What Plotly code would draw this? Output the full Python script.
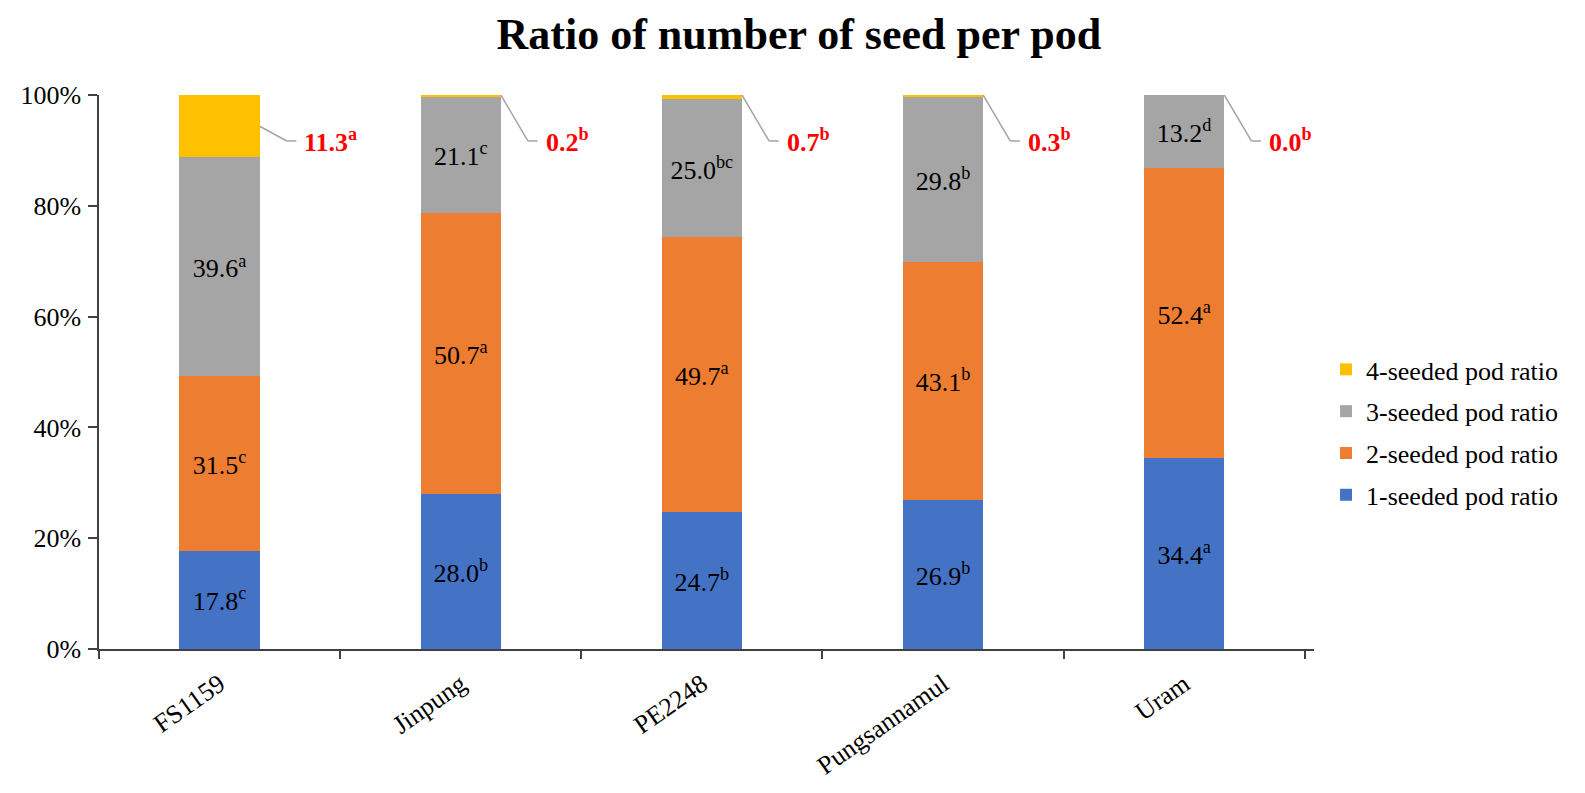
import plotly.graph_objects as go

categories = ["FS1159", "Jinpung", "PE2248", "Pungsannamul", "Uram"]
one_seeded = [17.8, 28.0, 24.7, 26.9, 34.4]
two_seeded = [31.5, 50.7, 49.7, 43.1, 52.4]
three_seeded = [39.6, 21.1, 25.0, 29.8, 13.2]
four_seeded = [11.3, 0.2, 0.7, 0.3, 0.0]
one_sig = ["c", "b", "b", "b", "a"]
two_sig = ["c", "a", "a", "b", "a"]
three_sig = ["a", "c", "bc", "b", "d"]
four_sig = ["a", "b", "b", "b", "b"]
series_names = ["1-seeded pod ratio", "2-seeded pod ratio", "3-seeded pod ratio", "4-seeded pod ratio"]
colors = ["#4472C4", "#ED7D31", "#A5A5A5", "#FFC000"]

FONT = "Liberation Serif, Times New Roman, serif"
BAR_W = 0.333

def lab(vals, sig):
    return [f"{v:.1f}<sup>{s}</sup>" for v, s in zip(vals, sig)]

fig = go.Figure()
series = [(one_seeded, one_sig), (two_seeded, two_sig), (three_seeded, three_sig), (four_seeded, four_sig)]
for k, ((vals, sig), name, col) in enumerate(zip(series, series_names, colors)):
    fig.add_trace(go.Bar(
        x=categories, y=vals, name=name, marker_color=col, marker_line_width=0,
        width=BAR_W,
        text=lab(vals, sig) if k < 3 else None,
        textposition="inside" if k < 3 else "none",
        insidetextanchor="middle", textangle=0,
        textfont=dict(family=FONT, size=26, color="black"),
        legendgroup=name, legendrank=10 - k,
    ))

# leader lines and labels for 4-seeded values
LABEL_Y = 91.7
for i, cat in enumerate(categories):
    total = one_seeded[i] + two_seeded[i] + three_seeded[i] + four_seeded[i]
    base = (one_seeded[i] + two_seeded[i] + three_seeded[i]) / total * 100
    top = 100.0
    start_y = (base + top) / 2 if four_seeded[i] > 2 else top
    x0 = i + BAR_W / 2
    x1 = x0 + 0.112
    x2 = x1 + 0.04
    fig.add_shape(type="line", xref="x", yref="y", x0=x0, y0=start_y, x1=x1, y1=LABEL_Y,
                  line=dict(color="#A5A5A5", width=1.5))
    fig.add_shape(type="line", xref="x", yref="y", x0=x1, y0=LABEL_Y, x1=x2, y1=LABEL_Y,
                  line=dict(color="#A5A5A5", width=1.5))
    fig.add_annotation(x=x2 + 0.025, y=LABEL_Y, xref="x", yref="y", xanchor="left", yanchor="middle",
                       text=f"<b>{four_seeded[i]:.1f}<sup>{four_sig[i]}</sup></b>", showarrow=False,
                       font=dict(family=FONT, size=26, color="#FF0000"))

fig.update_layout(
    barmode="stack", barnorm="percent",
    width=1585, height=793,
    margin=dict(l=99, r=271, t=95, b=144),
    paper_bgcolor="white", plot_bgcolor="white",
    font=dict(family=FONT, size=26, color="black"),
    title=dict(text="<b>Ratio of number of seed per pod</b>", x=0.504, xanchor="center",
               y=0.958, yanchor="middle", xref="container", yref="container",
               font=dict(family=FONT, size=44, color="black")),
    legend=dict(x=1.0099, xanchor="left", y=0.547, yanchor="top",
                traceorder="grouped", tracegroupgap=5,
                font=dict(family=FONT, size=26, color="black"),
                itemwidth=30),
    showlegend=True,
)
fig.update_xaxes(showline=True, linecolor="#404040", linewidth=1.5, ticks="outside",
                 tickson="boundaries", ticklen=8, tickcolor="#404040", tickwidth=1.5,
                 tickangle=-35, ticklabelstandoff=8,
                 tickfont=dict(family=FONT, size=26, color="black"),
                 showgrid=False)
fig.update_yaxes(range=[0, 100], showline=True, linecolor="#404040", linewidth=1.5,
                 ticks="outside", ticklen=9, tickcolor="#404040", tickwidth=1.5,
                 ticklabelstandoff=2,
                 tickvals=[0, 20, 40, 60, 80, 100], ticktext=["0%", "20%", "40%", "60%", "80%", "100%"],
                 tickfont=dict(family=FONT, size=26, color="black"), showgrid=False, zeroline=False)

fig.write_html("out.html")
